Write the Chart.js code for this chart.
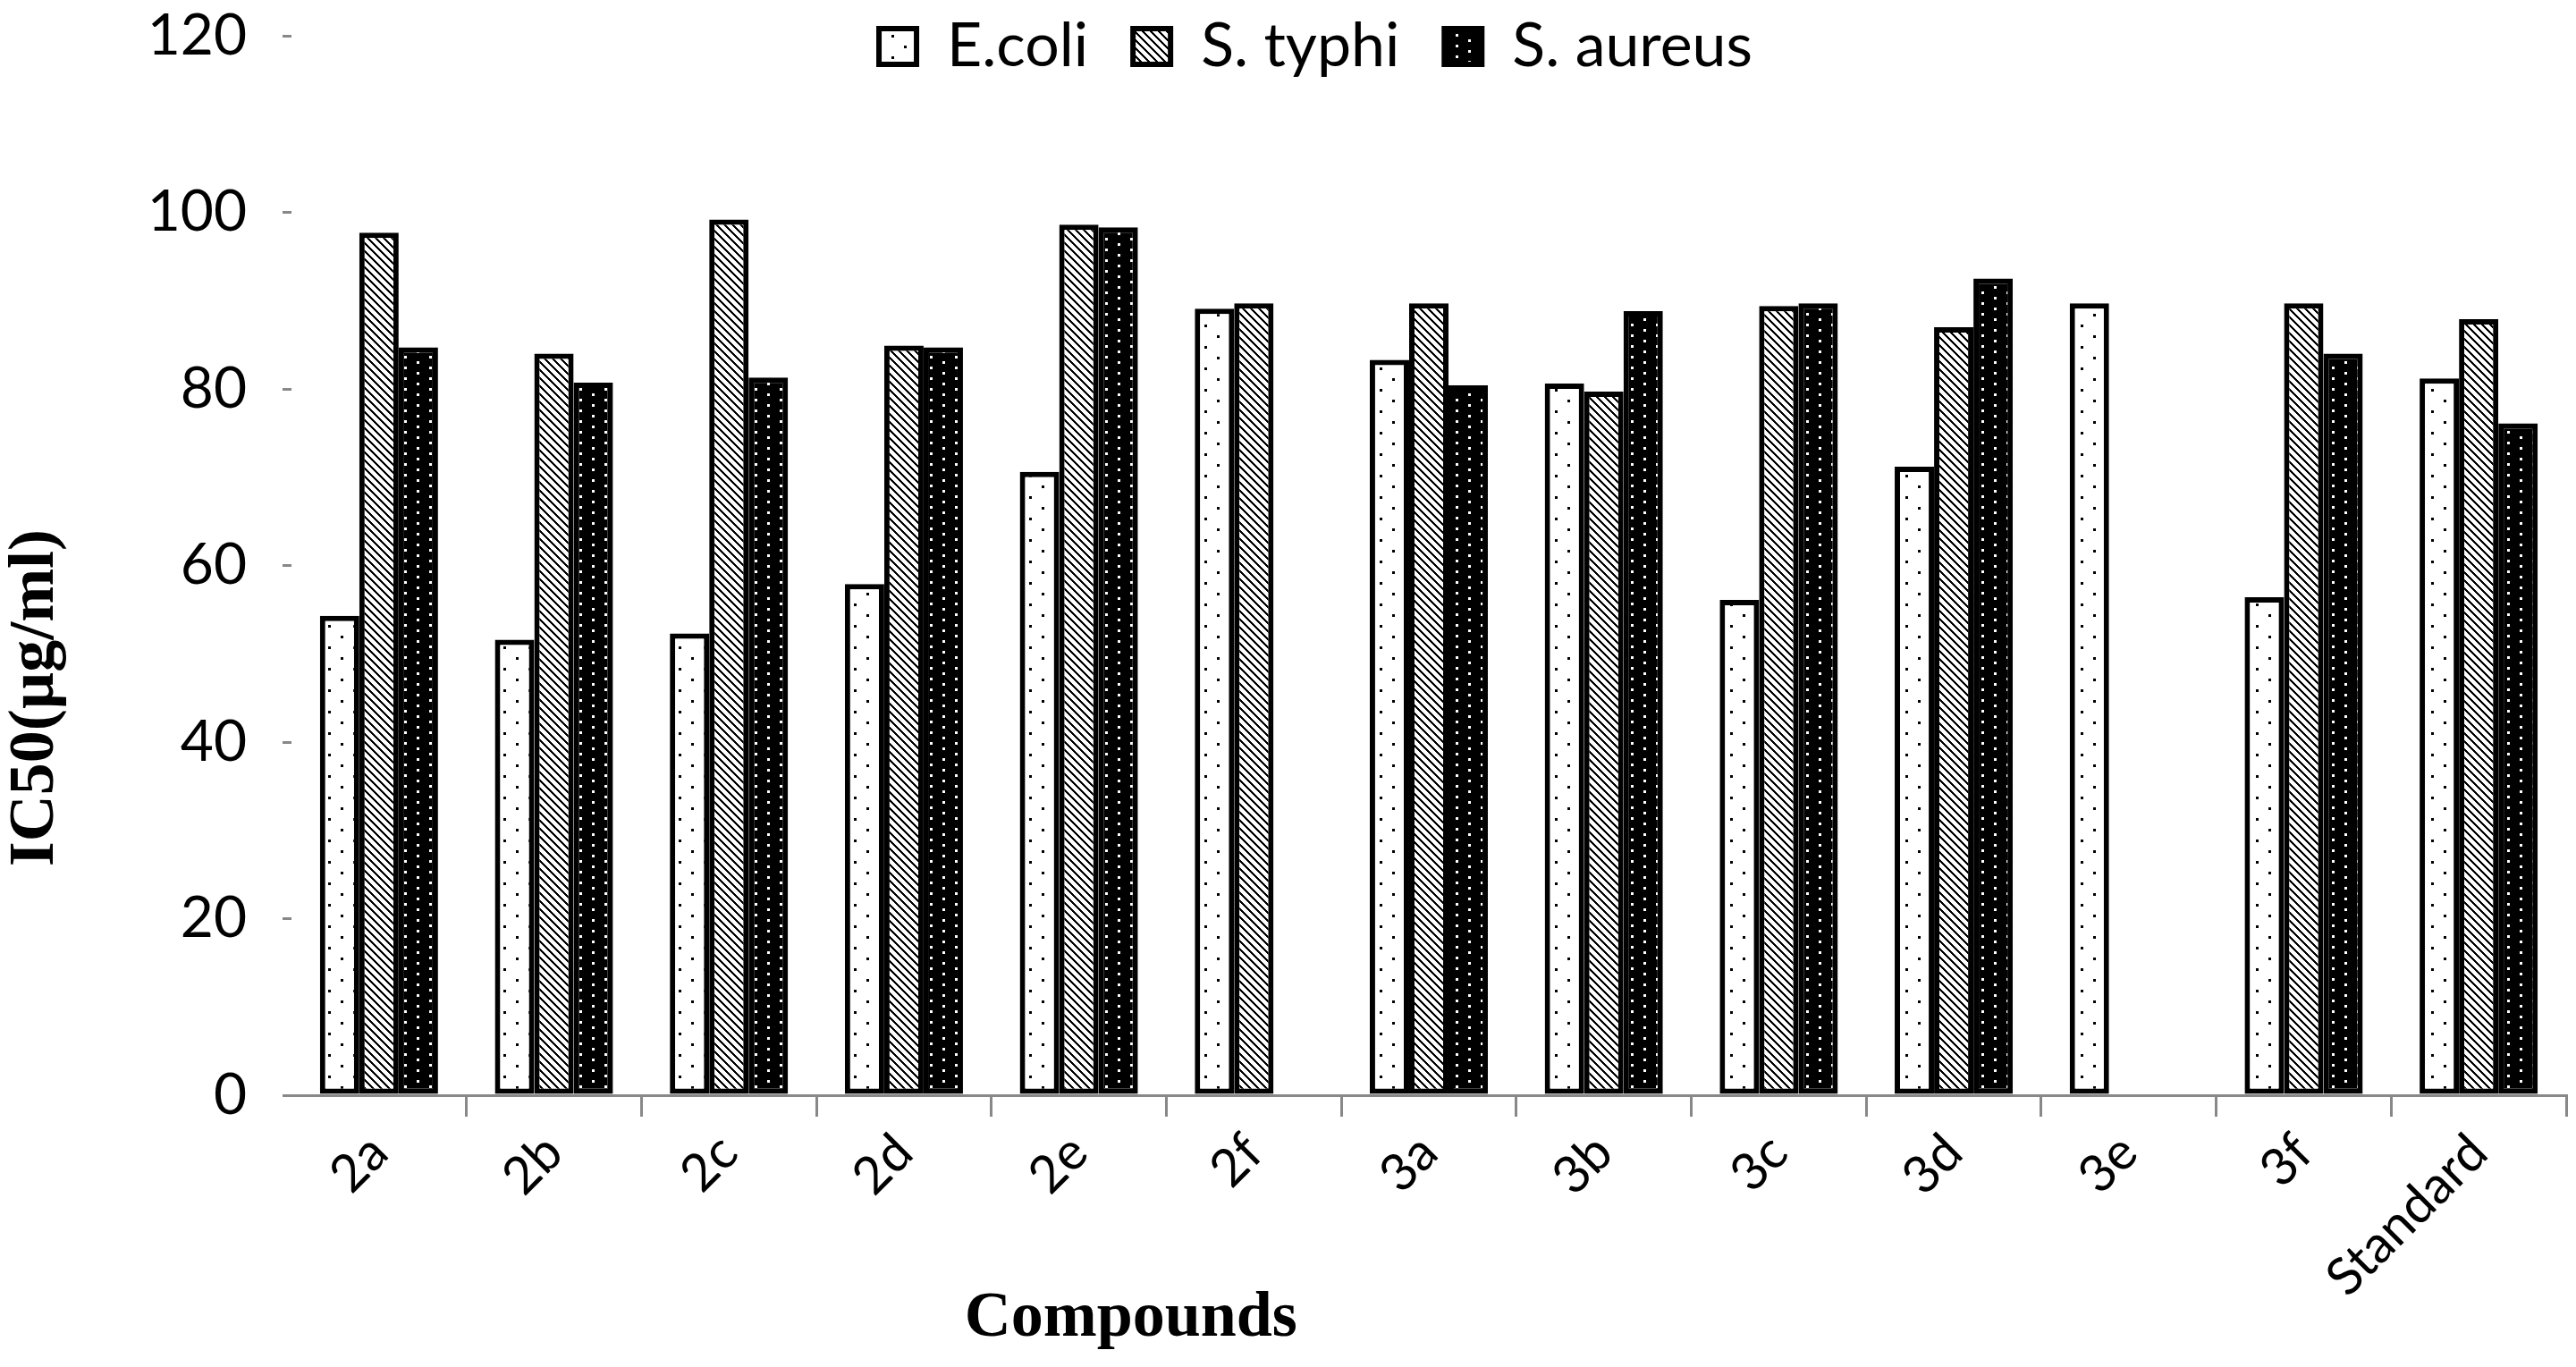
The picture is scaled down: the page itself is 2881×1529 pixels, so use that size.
<!DOCTYPE html>
<html>
<head>
  <title>IC50 compounds</title>
  <style>
    html, body { margin: 0; padding: 0; background: #fff; }
    .chart-box { width: 2881px; height: 1529px; position: relative; }
  </style>
</head>
<body>
  <div class="chart-box"><canvas id="chart"></canvas></div>

  <script src="https://cdn.jsdelivr.net/npm/chart.js@4"></script>
  <script>
    // данные с картинки
    const compounds = ['2a', '2b', '2c', '2d', '2e', '2f', '3a', '3b', '3c', '3d', '3e', '3f', 'Standard'];
    const ecoli   = [54.3, 51.6, 52.3, 57.9, 70.6, 89.1, 83.3, 80.6, 56.1, 71.2, 89.7, 56.4, 81.2];
    const styphi  = [97.7, 84.0, 99.2, 84.9, 98.6, 89.7, 89.7, 79.7, 89.4, 87.0, null, 89.7, 87.9];
    const saureus = [84.7, 80.7, 81.3, 84.7, 98.3, null, 80.4, 88.8, 89.7, 92.5, null, 84.0, 76.1];
    const yTicks  = [0, 20, 40, 60, 80, 100, 120];

    let canvas = document.getElementById('chart');
    let context = canvas.getContext('2d');

    // заливка-узор из маленькой плитки
    const makePattern = (w, h, paint) => {
      let tile = document.createElement('canvas');
      tile.width = w;
      tile.height = h;
      paint(tile.getContext('2d'));
      return context.createPattern(tile, 'repeat');
    };

    const dotsWhite = makePattern(28, 24, g => {
      g.fillStyle = '#fff'; g.fillRect(0, 0, 28, 24);
      g.fillStyle = '#000'; g.fillRect(3, 3, 3, 3); g.fillRect(17, 15, 3, 3);
    });
    const hatch = makePattern(9, 9, g => {
      g.fillStyle = '#fff'; g.fillRect(0, 0, 9, 9);
      g.fillStyle = '#000';
      for (let i = 0; i < 9; i++) {
        for (let k = 0; k < 3; k++) g.fillRect((i + k) % 9, i, 1, 1);
      }
    });
    const dotsBlack = makePattern(28, 12, g => {
      g.fillStyle = '#000'; g.fillRect(0, 0, 28, 12);
      g.fillStyle = '#fff'; g.fillRect(4, 2, 3, 3); g.fillRect(18, 8, 3, 3);
    });

    const legendPad = 50;

    // легенда заходит на область графика, как в оригинале
    const legendUp = {
      id: 'legendUp',
      beforeDraw(chart) {
        let l = chart.legend;
        l.top = 18 - legendPad;
        l.bottom = 130;
        l.height = l.bottom - l.top;
        l.left = 31;
        l.right = chart.width + 31;
      }
    };

    // подписи осей стоят не по центру, рисуем сами
    const axisTitles = {
      id: 'axisTitles',
      afterDraw(chart) {
        const { ctx, chartArea } = chart;
        ctx.save();
        ctx.font = 'bold 72px "Liberation Serif"';
        ctx.fillStyle = '#000';
        ctx.textAlign = 'center';
        ctx.textBaseline = 'middle';
        ctx.fillText('Compounds', chartArea.left + chartArea.width * 0.369, chart.height - 54);
        ctx.translate(40, chartArea.top + chartArea.height * 0.625);
        ctx.rotate(-Math.PI / 2);
        ctx.fillText('IC50(µg/ml)', 0, 0);
        ctx.restore();
      }
    };

    const barStyle = { borderColor: '#000', borderWidth: 6, borderSkipped: false, categoryPercentage: 0.675, barPercentage: 1.0 };

    let chart = new Chart(context, {
      type: 'bar',
      data: {
        labels: compounds,
        datasets: [
          Object.assign({ label: 'E.coli', data: ecoli, backgroundColor: dotsWhite }, barStyle),
          Object.assign({ label: 'S. typhi', data: styphi, backgroundColor: hatch }, barStyle),
          Object.assign({ label: 'S. aureus', data: saureus, backgroundColor: dotsBlack }, barStyle)
        ]
      },
      options: {
        responsive: true,
        maintainAspectRatio: false,
        devicePixelRatio: 1,
        animation: false,
        layout: { padding: { top: 0, right: 11, left: 0, bottom: 0 } },
        plugins: {
          tooltip: { enabled: false },
          legend: {
            position: 'top',
            maxHeight: 40,
            labels: {
              font: { family: 'Lato', size: 68 },
              color: '#000',
              boxWidth: 42,
              boxHeight: 40,
              padding: legendPad
            }
          }
        },
        scales: {
          x: {
            ticks: { font: { family: 'Lato', size: 58 }, color: '#000', minRotation: 45, maxRotation: 45, padding: 6 },
            grid: {
              drawOnChartArea: false,
              tickLength: 24,
              lineWidth: 3,
              color: c => c.index === 0 ? 'rgba(0,0,0,0)' : '#888'
            },
            border: { display: true, color: '#888', width: 3 },
            afterFit: s => { s.height = 304; }
          },
          y: {
            min: 0,
            max: 120,
            afterBuildTicks: s => { s.ticks = yTicks.map(v => ({ value: v })); },
            ticks: { font: { family: 'Lato', size: 64 }, color: '#000', padding: 40 },
            grid: { drawOnChartArea: false, tickLength: 10, lineWidth: 3, color: '#888' },
            border: { display: false },
            afterFit: s => {
              s.width = 326;
              s.paddingTop = 0;
              s.paddingBottom = 0;
            }
          }
        }
      },
      plugins: [legendUp, axisTitles]
    });
  </script>
</body>
</html>
